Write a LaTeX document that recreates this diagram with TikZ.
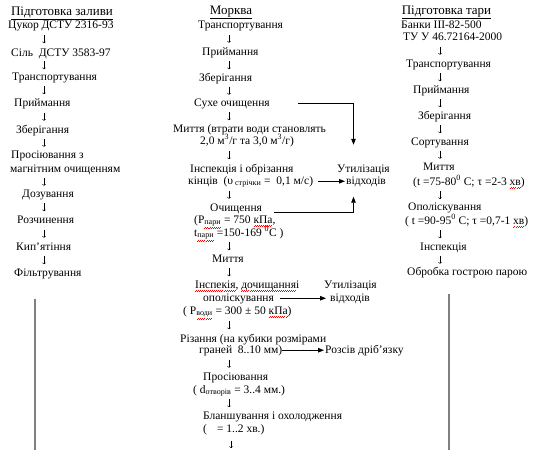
\documentclass[tikz,border=0pt]{standalone}
\usepackage{fontspec}
\setmainfont{Liberation Serif}
\usetikzlibrary{arrows.meta,calc}
\newcommand\redwave[1]{\leavevmode\setbox0\hbox{#1}%
  \rlap{\color{red}\hbox to \wd0{\xleaders\hbox{\rule[-3.4pt]{1pt}{0.55pt}\rule[-2.7pt]{1pt}{0.55pt}}\hfil}}\box0}
\newcommand\stepdown[3]{%
  \path (#1.south -| #3) -- coordinate[pos=.5] (sdm) (#2.north -| #3);
  \draw[darr] ([yshift=4pt]sdm) -- ([yshift=-4pt]sdm);}
\begin{document}
\begin{tikzpicture}[x=1pt,y=-1pt,
  ln/.style={anchor=base west, inner sep=0pt, text height=8pt, text depth=2.5pt,
    font=\fontsize{11.5}{13}\selectfont},
  hd/.style={anchor=base, inner sep=0pt, font=\fontsize{13}{15}\selectfont},
  darr/.style={line width=0.5pt, -{To[length=1.8pt,width=3.6pt]}},
  harr/.style={line width=0.8pt, -{Triangle[length=6pt,width=4.5pt]}},
  frame/.style={draw=black!50, line width=1.4pt}]
\useasboundingbox[fill=white] (0,0) rectangle (543,450);
\coordinate (col1) at (44,0);
\coordinate (col2) at (229,0);
\coordinate (col3) at (440,0);
\coordinate (xR) at (353.5,0);

% ---------- column 1
\node[hd] (h1) at (62,15) {\underline{Підготовка заливи}};
\node[ln] (a1) at (8,28) {Цукор ДСТУ 2316-93};
\node[ln] (a2) at (11,56) {Сіль\ \ ДСТУ 3583-97};
\node[ln] (a3) at (12,80) {Транспортування};
\node[ln] (a4) at (14,106) {Приймання};
\node[ln] (a5) at (16,133) {Зберігання};
\node[ln] (a6) at (11,158) {Просіювання з};
\node[ln] (a6b) at (10,172) {магнітним очищенням};
\node[ln] (a7) at (22,197) {Дозування};
\node[ln] (a8) at (17,223) {Розчинення};
\node[ln] (a9) at (16,250) {Кип’ятіння};
\node[ln] (a10) at (14,276) {Фільтрування};
\stepdown{a1}{a2}{col1}
\stepdown{a2}{a3}{col1}
\stepdown{a3}{a4}{col1}
\stepdown{a4}{a5}{col1}
\stepdown{a5}{a6}{col1}
\stepdown{a6b}{a7}{col1}
\stepdown{a7}{a8}{col1}
\stepdown{a8}{a9}{col1}
\stepdown{a9}{a10}{col1}

% ---------- column 2
\node[hd] (h2) at (231,14) {\underline{Морква}};
\node[ln] (b1) at (198,28) {Транспортування};
\node[ln] (b2) at (202,55) {Приймання};
\node[ln] (b3) at (199,81) {Зберігання};
\node[ln] (b4) at (194,106) {Сухе очищення};
\node[ln] (b5) at (173,132) {Миття (втрати води становлять};
\node[ln] (b5b) at (200,144) {2,0 м\textsuperscript{3}/г та 3,0 м\textsuperscript{3}/г)};
\node[ln] (b6) at (190,172) {Інспекція і обрізання};
\node[ln] (b6b) at (188,184) {кінців\ \ (υ\,\textsubscript{стрічки} =\ \ 0,1 м/с)};
\node[ln] (b7) at (210,211) {Очищення};
\node[ln] (b7b) at (194,223) {(Р\textsubscript{\redwave{пари}} = 750 \redwave{кПа},};
\node[ln] (b7c) at (194,236) {t\textsubscript{\redwave{пари}} =150-169 \textsuperscript{0}C )};
\node[ln] (b8) at (212,262) {Миття};
\node[ln] (b9) at (195,288) {\redwave{Інспекія}, \redwave{дочищання} і};
\node[ln] (b9b) at (203,301) {ополіскування};
\node[ln] (b9c) at (183,314) {( Р\textsubscript{\redwave{води}} = 300 ± 50 \redwave{кПа})};
\node[ln] (b10) at (180,342) {Різання (на кубики розмірами};
\node[ln] (b10b) at (199,353) {граней\ \ 8..10 мм)};
\node[ln] (b11) at (203,380) {Просіювання};
\node[ln] (b11b) at (193,393) {( d\textsubscript{отворів} = 3..4 мм.)};
\node[ln] (b12) at (203,419) {Бланшування і охолодження};
\node[ln] (b12b) at (203,432) {(\hspace{10pt}= 1..2 хв.)};
\coordinate (b13) at (231,448);

\node[ln] (u1) at (337,172) {Утилізація};
\node[ln] (u1b) at (346,184) {відходів};
\node[ln] (u2) at (324,288) {Утилізація};
\node[ln] (u2b) at (330,301) {відходів};
\node[ln] (r1) at (325,353) {Розсів дріб’язку};

\stepdown{b1}{b2}{col2}
\stepdown{b2}{b3}{col2}
\stepdown{b3}{b4}{col2}
\stepdown{b4}{b5}{col2}
\stepdown{b5b}{b6}{col2}
\stepdown{b6b}{b7}{col2}
\stepdown{b7c}{b8}{col2}
\stepdown{b8}{b9}{col2}
\stepdown{b9c}{b10}{col2}
\stepdown{b10b}{b11}{col2}
\stepdown{b11b}{b12}{col2}
\draw[darr] ([yshift=-6pt]b12b.south -| b13) -- (b13);

\draw[harr, shorten >=19pt] ([xshift=28pt]b4.east) -| (u1.north -| xR);
\draw[harr, shorten <=5pt, shorten >=1pt] (b6b.east) -- (u1b.west);
\draw[harr, shorten >=10pt] ([xshift=12pt,yshift=-4pt]b7.east) -| (u1b.south -| xR);
\draw[harr, shorten <=6pt, shorten >=4pt] (b9b.east) -- (u2b.west);
\draw[harr, shorten >=1pt] (b10b.east) -- (r1.west);

% ---------- column 3
\node[hd] (h3) at (446.5,14) {\underline{Підготовка тари}};
\node[ln] (c1) at (401,28) {Банки ІІІ-82-500};
\node[ln] (c1b) at (403,40) {ТУ У 46.72164-2000};
\node[ln] (c2) at (406,67) {Транспортування};
\node[ln] (c3) at (413,93) {Приймання};
\node[ln] (c4) at (418,119) {Зберігання};
\node[ln] (c5) at (411,145) {Сортування};
\node[ln] (c6) at (423,170) {Миття};
\node[ln] (c6b) at (413,185) {(t =75-80\textsuperscript{0} C; τ =2-3 \redwave{хв})};
\node[ln] (c7) at (408,210.5) {Ополіскування};
\node[ln] (c7b) at (405,224) {( t =90-95\textsuperscript{0} C; τ =0,7-1 \redwave{хв})};
\node[ln] (c8) at (420,250) {Інспекція};
\node[ln] (c9) at (407,275) {Обробка гострою парою};
\stepdown{c1b}{c2}{col3}
\stepdown{c2}{c3}{col3}
\stepdown{c3}{c4}{col3}
\stepdown{c4}{c5}{col3}
\stepdown{c5}{c6}{col3}
\stepdown{c6b}{c7}{col3}
\stepdown{c7b}{c8}{col3}
\stepdown{c8}{c9}{col3}

% ---------- frame remnants
\draw[frame] (35,299) -- (35,450);
\draw[frame] (449,294) -- (449,450);
\end{tikzpicture}
\end{document}
